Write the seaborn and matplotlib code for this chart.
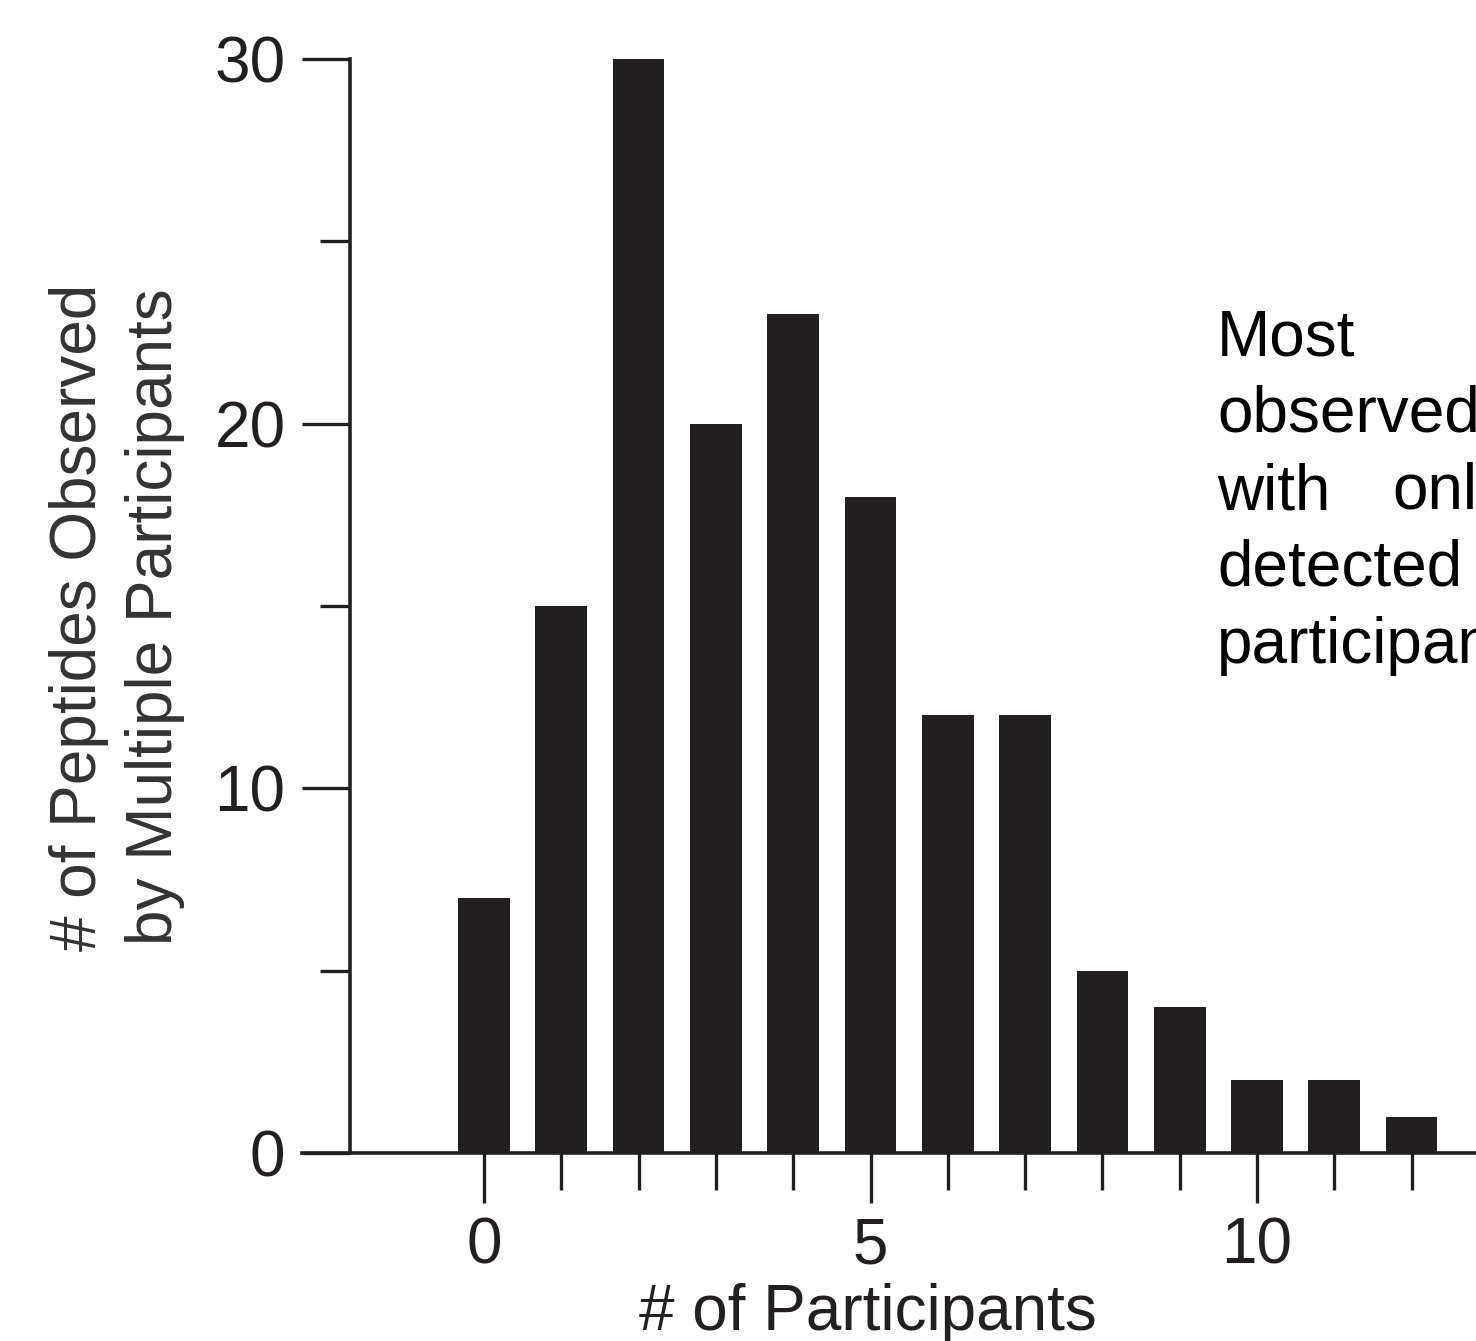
import matplotlib
matplotlib.use("Agg")
import matplotlib.pyplot as plt
import seaborn as sns
import pandas as pd
from matplotlib.ticker import FixedLocator

participants = [0, 1, 2, 3, 4, 5, 6, 7, 8, 9, 10, 11, 12]
peptide_counts = [7, 15, 30, 20, 23, 18, 12, 12, 5, 4, 2, 2, 1]
note_lines = ["Most", "observed", "with", "only", "detected", "participants"]

sns.set_theme(style="ticks")
plt.rcParams['font.family'] = ['Liberation Sans', 'DejaVu Sans']

W, H = 1476, 1341
fig = plt.figure(figsize=(W / 100, H / 100), dpi=100)

def px(x, y):
    return x / W, 1 - y / H

ax_left, ax_right = 302, 1476
ax_top, ax_bottom = 59, 1153
ax = fig.add_axes([ax_left / W, 1 - ax_bottom / H, (ax_right - ax_left) / W, (ax_bottom - ax_top) / H])

dark = "#231f20"
df = pd.DataFrame({"participants": participants, "count": peptide_counts})
sns.barplot(data=df, x="participants", y="count", native_scale=True, width=0.67,
            color=dark, saturation=1, edgecolor="none", linewidth=0, ax=ax)

unit = 77.3
x0 = 484
ax.set_xlim((ax_left - x0) / unit, (ax_right - x0) / unit)
ax.set_ylim(0, 30)

for s in ["top", "right"]:
    ax.spines[s].set_visible(False)
ax.spines["left"].set_position(("data", (350 - x0) / unit))
for s in ["left", "bottom"]:
    ax.spines[s].set_linewidth(2.6)
    ax.spines[s].set_color(dark)

ax.yaxis.set_major_locator(FixedLocator([0, 10, 20, 30]))
ax.yaxis.set_minor_locator(FixedLocator([5, 15, 25]))
ax.xaxis.set_major_locator(FixedLocator([0, 5, 10]))
ax.xaxis.set_minor_locator(FixedLocator([1, 2, 3, 4, 6, 7, 8, 9, 11, 12]))

ax.tick_params(axis="y", which="major", length=34.5, width=2.4, color=dark,
               labelsize=46, labelcolor=dark, pad=12)
ax.tick_params(axis="y", which="minor", length=21.6, width=2.4, color=dark)
ax.tick_params(axis="x", which="major", length=36, width=2.4, color=dark,
               labelsize=46, labelcolor=dark, pad=10)
ax.tick_params(axis="x", which="minor", length=26.6, width=2.4, color=dark)

ax.set_xlabel("# of Participants", fontsize=46, color=dark)
ax.xaxis.set_label_coords((868 - ax_left) / (ax_right - ax_left), (ax_bottom - 1283) / (ax_bottom - ax_top))
ax.set_ylabel("# of Peptides Observed\nby Multiple Participants", fontsize=46,
              color="#333333", linespacing=1.33, va="center")
ax.yaxis.set_label_coords((117 - ax_left) / (ax_right - ax_left), (ax_bottom - 617) / (ax_bottom - ax_top))

baselines = [355, 432, 509, 509, 586, 663]
xs = [1217, 1217, 1217, 1392, 1217, 1217]
for txt, bx, by in zip(note_lines, xs, baselines):
    fig.text(*px(bx, by), txt, fontsize=46, color="black", va="baseline", ha="left")

fig.savefig("out.png", dpi=100)
